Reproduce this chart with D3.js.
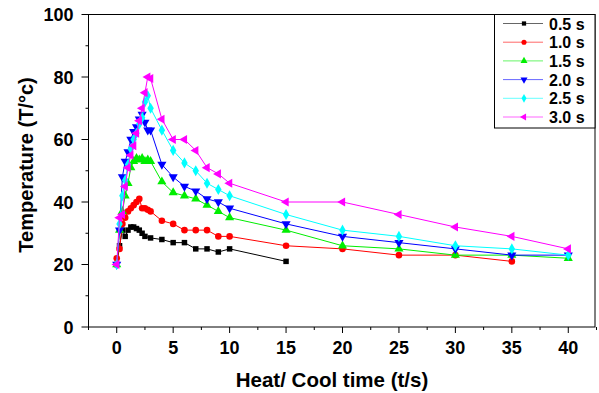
<!DOCTYPE html>
<html>
<head>
<meta charset="utf-8">
<script src="https://cdn.jsdelivr.net/npm/d3@7"></script>
<style>
  body { margin: 0; background: #fff; }
  text { font-family: "Liberation Sans", Arial, sans-serif; font-weight: bold; fill: #000; }
</style>
</head>
<body>
<svg id="chart" width="599" height="393"></svg>
<script>
// heat / cool time (s) per series and temperature readings (T/°c)
var t05 = [0, 0.25, 0.5, 0.75, 1.0, 1.25, 1.5, 1.75, 2.0, 2.25, 2.5, 3, 4, 5, 6, 7, 8, 9, 10, 15];
var T05 = [20, 26, 31, 29, 31, 32, 32, 31.5, 31, 30, 29, 28.5, 28, 27, 27, 25, 25, 24, 25, 21];

var t10 = [0, 0.25, 0.5, 0.75, 1.0, 1.25, 1.5, 1.75, 2.0, 2.25, 2.5, 2.75, 3, 4, 5, 6, 7, 8, 9, 10, 15, 20, 25, 30, 35];
var T10 = [22, 25, 33, 35, 37, 38, 39, 40, 41, 38, 38, 37.5, 37, 34, 33, 31, 31, 31, 29, 29, 26, 25, 23, 23, 21];

var t15 = [0, 0.25, 0.5, 0.75, 1.0, 1.25, 1.5, 1.75, 2.0, 2.25, 2.5, 2.75, 3, 4, 5, 6, 7, 8, 9, 10, 15, 20, 25, 30, 35, 40];
var T15 = [20, 31, 37, 42, 46, 51, 53, 54, 53.5, 54, 53, 53.5, 53, 46.5, 43, 42, 41, 39, 37, 35, 31, 26, 25, 23, 23, 22];

var t20 = [0, 0.25, 0.5, 0.75, 1.0, 1.25, 1.5, 1.75, 2.0, 2.25, 2.5, 2.75, 3, 4, 5, 6, 7, 8, 9, 10, 15, 20, 25, 30, 35, 40];
var T20 = [20, 31, 48, 53, 56, 60, 62.5, 64, 66.5, 68, 65.5, 63, 63, 52, 48, 45, 43.5, 41, 40, 38, 33, 29, 27, 25, 23, 23];

var t25 = [0, 0.25, 0.5, 0.75, 1.0, 1.25, 1.5, 1.75, 2.0, 2.25, 2.5, 2.75, 3, 4, 5, 6, 7, 8, 9, 10, 15, 20, 25, 30, 35, 40];
var T25 = [20, 33, 42, 47, 52, 57, 60, 62, 65, 67, 72, 74, 70, 63, 56.5, 52.5, 50, 46, 44, 42, 36, 31, 29, 26, 25, 23];

var t30 = [0, 0.25, 0.5, 0.75, 1.0, 1.25, 1.5, 1.75, 2.0, 2.25, 2.5, 2.75, 3, 4, 5, 6, 7, 8, 9, 10, 15, 20, 25, 30, 35, 40];
var T30 = [20, 35, 36, 45, 51, 55, 58, 62, 66, 70, 75, 80, 79.5, 66.5, 60, 60, 56.5, 51, 49, 46, 40, 40, 36, 32, 29, 25];

var seriesNames = ["0.5 s", "1.0 s", "1.5 s", "2.0 s", "2.5 s", "3.0 s"];
var seriesColors = ["#000000", "#ff0000", "#00ee00", "#0000ff", "#00ffff", "#ff00ff"];
var seriesTimes = [t05, t10, t15, t20, t25, t30];
var seriesTemps = [T05, T10, T15, T20, T25, T30];

var xTicks = [0, 5, 10, 15, 20, 25, 30, 35, 40];
var yTicks = [0, 20, 40, 60, 80, 100];

var svg = d3.select("#chart");
var pLeft = 88.5, pRight = 595, pTop = 14.5, pBottom = 327;

var x = d3.scaleLinear().domain([-2.5, 42.5]).range([pLeft, pRight + 1.5]);
var y = d3.scaleLinear().domain([0, 100]).range([pBottom, pTop]);

// marker shapes
var shapes = [
  { type: d3.symbolSquare, size: 30, rot: 0 },
  { type: d3.symbolCircle, size: 34, rot: 0 },
  { type: d3.symbolTriangle, size: 36, rot: 0 },
  { type: d3.symbolTriangle, size: 36, rot: 180 },
  { type: d3.symbolDiamond, size: 36, rot: 0 },
  { type: d3.symbolTriangle, size: 36, rot: -90 }
];

// frame
svg.append("rect")
  .attr("x", pLeft).attr("y", pTop)
  .attr("width", pRight - pLeft).attr("height", pBottom - pTop)
  .style("fill", "none").style("stroke", "#000").style("stroke-width", 1);

// x axis ticks (major + minor)
var xMinor = d3.range(-2.5, 42.6, 2.5);
svg.append("g").selectAll("line").data(xMinor).enter().append("line")
  .attr("x1", function(d) { return x(d); }).attr("x2", function(d) { return x(d); })
  .attr("y1", pBottom)
  .attr("y2", function(d) { return d % 5 === 0 ? pBottom + 6 : pBottom + 3; })
  .style("stroke", "#000");
svg.append("g").selectAll("text").data(xTicks).enter().append("text")
  .attr("x", function(d) { return x(d); })
  .attr("y", pBottom + 27)
  .attr("text-anchor", "middle")
  .style("font-size", "18px")
  .text(function(d) { return d; });

// y axis ticks
var yMinor = d3.range(0, 101, 10);
svg.append("g").selectAll("line").data(yMinor).enter().append("line")
  .attr("y1", function(d) { return y(d); }).attr("y2", function(d) { return y(d); })
  .attr("x1", pLeft)
  .attr("x2", function(d) { return d % 20 === 0 ? pLeft - 7 : pLeft - 3; })
  .style("stroke", "#000");
svg.append("g").selectAll("text").data(yTicks).enter().append("text")
  .attr("x", pLeft - 15)
  .attr("y", function(d) { return y(d) + 6.5; })
  .attr("text-anchor", "end")
  .style("font-size", "18px")
  .text(function(d) { return d; });

// axis titles
svg.append("text")
  .attr("x", 332).attr("y", 387)
  .attr("text-anchor", "middle")
  .style("font-size", "20.5px")
  .text("Heat/ Cool time (t/s)");
svg.append("text")
  .attr("transform", "translate(33,165) rotate(-90)")
  .attr("text-anchor", "middle")
  .style("font-size", "20px")
  .text("Temperature (T/°c)");

// series
var line = d3.line()
  .x(function(d) { return x(d[0]); })
  .y(function(d) { return y(d[1]); });

seriesNames.forEach(function(name, i) {
  var pts = seriesTimes[i].map(function(t, j) { return [t, seriesTemps[i][j]]; });
  var g = svg.append("g");
  g.append("path")
    .datum(pts)
    .attr("d", line)
    .style("fill", "none")
    .style("stroke", seriesColors[i])
    .style("stroke-width", 1);
  var sym = d3.symbol().type(shapes[i].type).size(shapes[i].size);
  g.selectAll("path.mk").data(pts).enter().append("path")
    .attr("class", "mk")
    .attr("d", sym)
    .attr("transform", function(d) {
      return "translate(" + x(d[0]) + "," + y(d[1]) + ") rotate(" + shapes[i].rot + ")";
    })
    .style("fill", seriesColors[i]);
});

// legend
var lg = svg.append("g");
lg.append("rect")
  .attr("x", 494.5).attr("y", pTop)
  .attr("width", pRight - 494.5).attr("height", 128 - pTop)
  .style("fill", "#fff").style("stroke", "#000");
seriesNames.forEach(function(name, i) {
  var ly = 23.5 + i * 18.7;
  lg.append("line")
    .attr("x1", 503).attr("x2", 543).attr("y1", ly).attr("y2", ly)
    .style("stroke", seriesColors[i]).style("stroke-opacity", 0.6);
  lg.append("path")
    .attr("d", d3.symbol().type(shapes[i].type).size(shapes[i].size * 0.6))
    .attr("transform", "translate(524," + ly + ") rotate(" + shapes[i].rot + ")")
    .style("fill", seriesColors[i]);
  lg.append("text")
    .attr("x", 549).attr("y", ly + 6)
    .style("font-size", "16px")
    .text(name);
});
</script>
</body>
</html>
